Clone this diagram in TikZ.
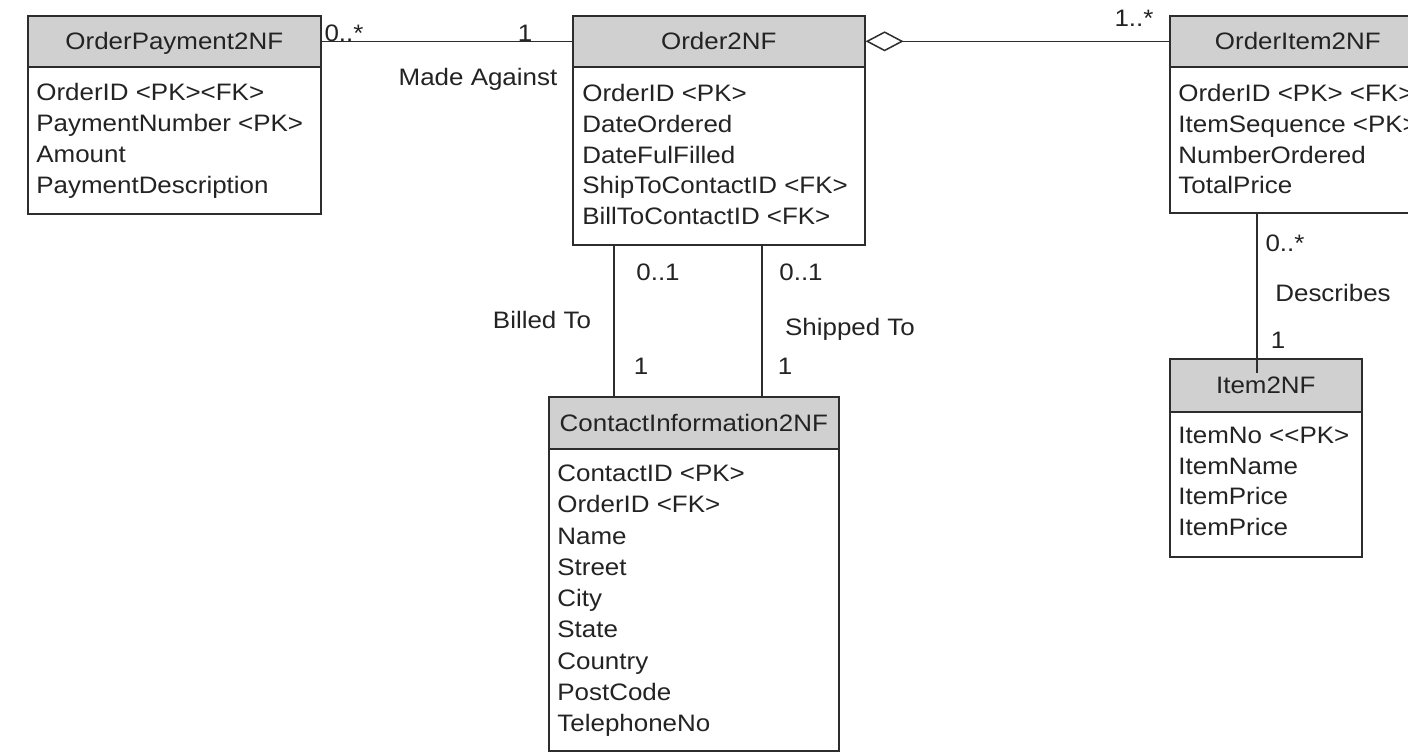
\documentclass[tikz,border=0pt]{standalone}
\usepackage{fontspec}
\setmainfont{Liberation Sans}[FakeStretch=1.09]
\usetikzlibrary{arrows.meta}
\definecolor{linec}{RGB}{45,45,45}
\definecolor{hdrc}{RGB}{208,208,208}
\definecolor{txtc}{RGB}{35,35,35}
\begin{document}
\begin{tikzpicture}[x=0.5pt,y=-0.5pt,
  every node/.style={font=\fontsize{11.9pt}{14pt}\selectfont, text=txtc},
  entity/.style={draw=linec, line width=0.8pt, fill=white, inner sep=0, anchor=north west},
  header/.style={draw=linec, line width=0.8pt, fill=hdrc, inner sep=0, anchor=north west},
  attr/.style={anchor=base west, inner sep=0},
  title/.style={anchor=base, inner sep=0},
  lbl/.style={anchor=base, inner sep=0},
  conn/.style={draw=linec, line width=0.75pt}]
\useasboundingbox (0,0) rectangle (1408,752);
\clip (0,0) rectangle (1408,752);
\fill[white] (0,0) rectangle (1408,752);

% ---- OrderPayment2NF ----
\node[entity, minimum width=146.5pt, minimum height=99pt] (op) at (27,15) {};
\node[header, minimum width=146.5pt, minimum height=25.5pt] (oph) at (27,15) {};
\node[title] (opt) at ([yshift=-4.25pt]oph.center) {OrderPayment2NF};
\foreach \t [count=\i] in {OrderID <PK><FK>, PaymentNumber <PK>, Amount, PaymentDescription}
  \node[attr] (opa\i) at (36,{100.5+(\i-1)*31}) {\t};

% ---- Order2NF ----
\node[entity, minimum width=146pt, minimum height=114.5pt] (o) at (572,15) {};
\node[header, minimum width=146pt, minimum height=25.5pt] (oh) at (572,15) {};
\node[title] (ot) at ([yshift=-4.25pt]oh.center) {Order2NF};
\foreach \t [count=\i] in {OrderID <PK>, DateOrdered, DateFulFilled, ShipToContactID <FK>, BillToContactID <FK>}
  \node[attr] (oa\i) at (582,{101.5+(\i-1)*30.8}) {\t};

% ---- OrderItem2NF (runs past the right edge) ----
\node[entity, minimum width=128pt, minimum height=98.5pt] (oi) at (1169,15) {};
\node[header, minimum width=128pt, minimum height=25.5pt] (oih) at (1169,15) {};
\node[title] (oit) at ([yshift=-4.25pt]oih.center) {OrderItem2NF};
\foreach \t [count=\i] in {OrderID <PK> <FK>, ItemSequence <PK>, NumberOrdered, TotalPrice}
  \node[attr] (oia\i) at (1178,{101.5+(\i-1)*30.8}) {\t};

% ---- Item2NF ----
\node[entity, minimum width=96pt, minimum height=99pt] (it) at (1169,358) {};
\node[header, minimum width=96pt, minimum height=26.5pt] (ith) at (1169,358) {};
\node[title] (itt) at ([yshift=-4.25pt]ith.center) {Item2NF};
\foreach \t [count=\i] in {ItemNo <{}<PK>, ItemName, ItemPrice, ItemPrice}
  \node[attr] (ita\i) at (1178,{443.5+(\i-1)*30.7}) {\t};

% ---- ContactInformation2NF ----
\node[entity, minimum width=145pt, minimum height=177pt] (c) at (548,396) {};
\node[header, minimum width=145pt, minimum height=26pt] (ch) at (548,396) {};
\node[title] (ct) at ([yshift=-4.25pt]ch.center) {ContactInformation2NF};
\foreach \t [count=\i] in {ContactID <PK>, OrderID <FK>, Name, Street, City, State, Country, PostCode, TelephoneNo}
  \node[attr] (ca\i) at (557,{481.5+(\i-1)*31.25}) {\t};

% ---- connectors ----
\coordinate (bill) at (614,0);
\coordinate (ship) at (762,0);
\coordinate (desc) at (1257,0);
\coordinate (descend) at (1257,373);

\draw[conn] (oph.east) -- (oh.west);
\draw[conn, {Diamond[open, fill=white, length=19pt, width=10pt]}-] (oh.east) -- (oih.west);
\draw[conn] (o.south -| bill) -- (c.north -| bill);
\draw[conn] (o.south -| ship) -- (c.north -| ship);
\draw[conn] (oi.south -| desc) -- (descend);

% ---- multiplicities and role names ----
\node[lbl] (m1) at (344,41.5) {0..*};
\node[lbl] (m2) at (525,41.5) {1};
\node[lbl] (r1) at (478,85.5) {Made Against};
\node[lbl] (m3) at (1134,26.5) {1..*};
\node[lbl] (m4) at (1285,251.5) {0..*};
\node[lbl] (r2) at (1333,301.5) {Describes};
\node[lbl] (m5) at (1278,348.5) {1};
\node[lbl] (m6) at (658,280.5) {0..1};
\node[lbl] (m7) at (801,280.5) {0..1};
\node[lbl] (r3) at (542,328.5) {Billed To};
\node[lbl] (r4) at (850,335.5) {Shipped To};
\node[lbl] (m8) at (641,374.5) {1};
\node[lbl] (m9) at (785,374.5) {1};
\end{tikzpicture}
\end{document}
